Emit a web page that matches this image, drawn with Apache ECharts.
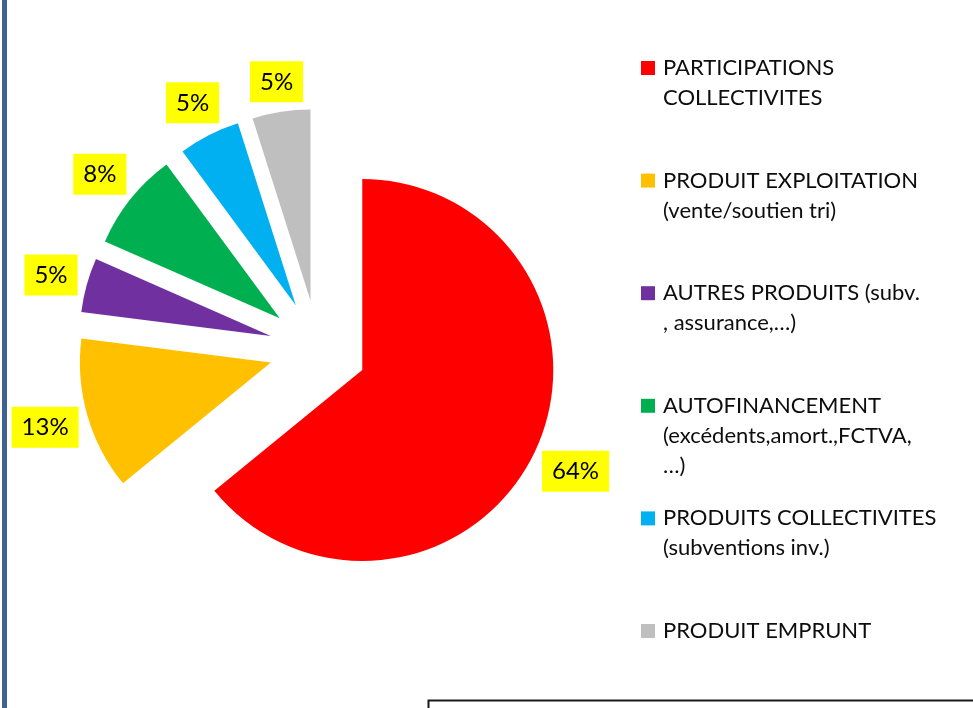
<!DOCTYPE html>
<html>
<head>
<meta charset="utf-8">
<script src="https://cdn.jsdelivr.net/npm/echarts@6/dist/echarts.min.js"></script>
<style>
html,body{margin:0;padding:0;background:#fff;}
#chart{width:973px;height:708px;}
</style>
</head>
<body>
<div id="chart"></div>
<script>
// ---- data ----
const categories = [
  'PARTICIPATIONS\nCOLLECTIVITES',
  'PRODUIT EXPLOITATION\n(vente/soutien tri)',
  'AUTRES PRODUITS (subv.\n, assurance,…)',
  'AUTOFINANCEMENT\n(excédents,amort.,FCTVA,\n…)',
  'PRODUITS COLLECTIVITES\n(subventions inv.)',
  'PRODUIT EMPRUNT'
];
const values = [64.1, 12.9, 4.6, 8.3, 5.2, 4.9];
const colors = ['#FF0000', '#FFC000', '#7030A0', '#00B050', '#00B0F0', '#BFBFBF'];

// ---- layout constants ----
const FONT = 'Lato';
const CENTER = [318, 349];
const RADIUS = 191;
const EXPLODE = 49;
const LH = 30;
const LABEL_GAP = 6;

const chart = echarts.init(document.getElementById('chart'), null, {renderer: 'canvas'});

const pieData = categories.map((c, i) => ({
  name: c, value: values[i], selected: true, itemStyle: {color: colors[i]}
}));
const labelData = categories.map((c, i) => ({
  name: c, value: values[i], selected: true
}));

// Put the legend marker on the first line of each (multi-line) entry:
// pad every entry to 5 lines with the first text line in the middle.
function legendText(name) {
  const n = name.split('\n').length;
  return '\n\n' + name + '\n'.repeat(3 - n);
}

// "Outside end" placement: push each label box along its slice bisector so that
// the box sits just beyond the arc (like spreadsheet data labels).
function labelLayout(params) {
  const r = params.labelRect;
  const lx = r.x + r.width / 2, ly = r.y + r.height / 2;
  let ux = lx - CENTER[0], uy = ly - CENTER[1];
  const cur = Math.hypot(ux, uy);
  ux /= cur; uy /= cur;
  const radial = cur > RADIUS + EXPLODE ? cur - EXPLODE : cur;
  const want = RADIUS + LABEL_GAP + (r.width / 2) * Math.abs(ux) + (r.height / 2) * Math.abs(uy);
  return {dx: (want - radial) * ux, dy: (want - radial) * uy};
}

chart.setOption({
  animation: false,
  backgroundColor: '#ffffff',
  legend: {
    orient: 'vertical',
    left: 641,
    top: -7,
    padding: 0,
    itemWidth: 14,
    itemHeight: 14,
    itemGap: -37.4,
    icon: 'rect',
    selectedMode: false,
    data: categories,
    formatter: legendText,
    textStyle: {fontFamily: FONT, fontSize: 22, lineHeight: LH, color: '#0d0d0d', padding: [0, 0, 0, 3]}
  },
  graphic: [
    {type: 'rect', left: 2, top: 0, shape: {width: 5, height: 708}, style: {fill: '#41628F'}, silent: true},
    {type: 'rect', left: 426, top: 698, shape: {width: 560, height: 40}, style: {fill: 'none', stroke: '#1a1a1a', lineWidth: 2}, silent: true}
  ],
  series: [
    {
      type: 'pie',
      center: CENTER,
      radius: RADIUS,
      startAngle: 90,
      clockwise: true,
      selectedMode: 'multiple',
      selectedOffset: EXPLODE,
      label: {show: false},
      labelLine: {show: false},
      emphasis: {disabled: true},
      select: {itemStyle: {borderWidth: 0}},
      data: pieData
    },
    {
      type: 'pie',
      silent: true,
      center: CENTER,
      radius: [RADIUS + 22, RADIUS + 54],
      startAngle: 90,
      clockwise: true,
      selectedMode: 'multiple',
      selectedOffset: EXPLODE,
      avoidLabelOverlap: false,
      itemStyle: {color: 'rgba(0,0,0,0)'},
      emphasis: {disabled: true},
      labelLine: {show: false},
      labelLayout: labelLayout,
      label: {
        show: true,
        position: 'inside',
        rotate: 0,
        formatter: p => Math.round(p.percent) + '%',
        fontFamily: FONT,
        fontSize: 24,
        color: '#000',
        backgroundColor: '#FFFF00',
        padding: [8, 10, 8, 10],
        lineHeight: 25
      },
      data: labelData
    }
  ]
});
</script>
</body>
</html>
